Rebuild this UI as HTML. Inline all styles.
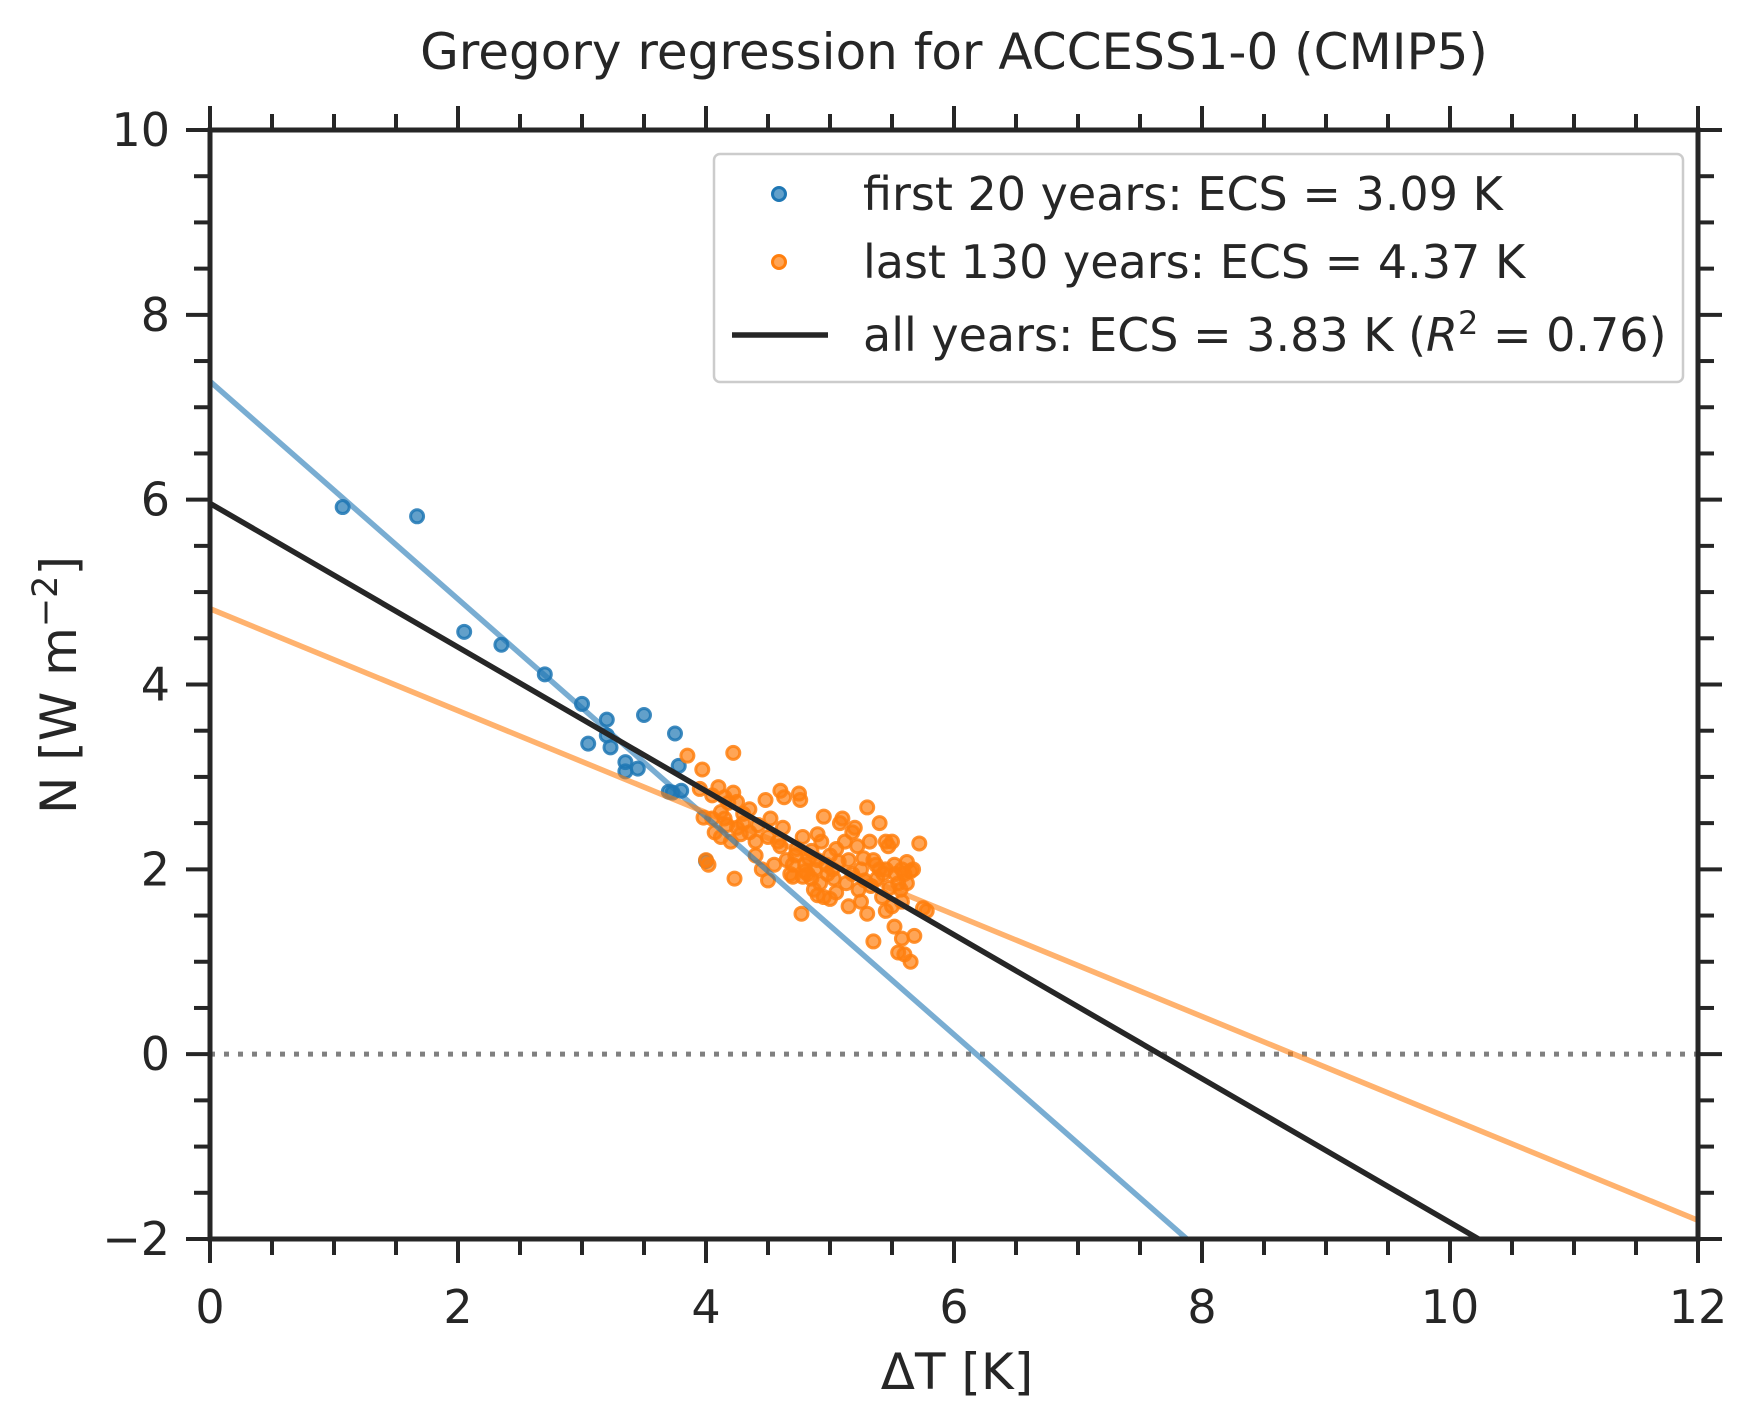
<!DOCTYPE html>
<html><head><meta charset="utf-8"><style>
html,body{margin:0;padding:0;background:#fff;overflow:hidden;width:1756px;height:1418px;position:relative}
svg{display:block;position:absolute;left:0;top:0}
text{font-family:"DejaVu Sans","Liberation Sans",sans-serif;fill:#262626}
</style></head><body>
<svg id="chart" width="1756" height="1418" viewBox="0 0 1756 1418"></svg>
<script>
const xTicks=[0,2,4,6,8,10,12];
const yTicks=[-2,0,2,4,6,8,10];
const firstX=[1.07,1.67,2.05,2.35,2.7,3.0,3.05,3.2,3.2,3.23,3.35,3.35,3.45,3.5,3.7,3.73,3.75,3.78,3.8,4.0];
const firstY=[5.92,5.82,4.57,4.43,4.11,3.79,3.36,3.62,3.45,3.32,3.16,3.06,3.09,3.67,2.84,2.83,3.47,3.12,2.85,2.09];
const lastX=[3.85,3.97,4.22,3.95,4.1,4.15,4.22,4.25,4.05,3.98,4.02,4.0,4.07,4.12,4.17,4.2,4.25,4.3,4.35,4.23,4.4,4.45,4.5,4.48,4.52,4.6,4.63,4.58,4.65,4.7,4.75,4.76,4.78,4.8,4.82,4.85,4.77,4.78,4.85,4.88,4.9,4.92,4.95,4.9,4.95,5.0,5.02,5.05,5.0,5.08,5.1,5.12,5.15,5.18,5.2,5.22,5.25,5.28,5.3,5.32,5.35,5.38,5.4,5.42,5.45,5.47,5.5,5.52,5.55,5.58,5.6,5.5,5.52,5.55,5.58,5.6,5.65,5.68,5.72,5.75,5.78,5.35,5.25,5.15,5.45,5.3,4.7,4.6,4.4,4.35,4.3,4.55,4.68,4.72,4.83,4.87,4.97,5.03,5.07,5.13,5.23,5.33,5.37,5.43,5.48,5.53,5.57,5.62,5.65,5.67,4.12,4.18,4.28,4.42,4.62,4.05,4.15,4.93,5.05,5.27,4.98,4.8,4.9,5.58,5.62,4.5,4.73,5.18,5.4,5.45];
const lastY=[3.23,3.08,3.26,2.87,2.89,2.78,2.83,2.73,2.55,2.56,2.05,2.1,2.4,2.35,2.48,2.3,2.45,2.6,2.65,1.9,2.15,2.0,1.88,2.75,2.55,2.85,2.78,2.3,2.1,2.05,2.82,2.75,2.35,2.05,1.95,1.9,1.52,1.92,2.2,2.0,2.1,1.85,1.7,2.38,2.57,2.15,2.0,1.75,1.68,2.5,2.55,2.3,2.1,1.95,2.45,2.25,2.0,1.88,2.67,2.3,2.1,1.9,2.5,1.7,2.0,2.25,2.3,2.05,1.85,2.0,1.95,1.6,1.38,1.1,1.25,1.08,1.0,1.28,2.28,1.58,1.55,1.22,1.65,1.6,1.55,1.52,1.92,2.25,2.3,2.4,2.5,2.05,1.95,2.15,2.12,1.78,2.05,1.9,2.08,1.85,1.78,1.82,2.05,1.95,1.8,1.95,1.78,2.08,1.98,2.0,2.62,2.72,2.38,2.48,2.45,2.8,2.55,2.3,2.22,2.12,1.95,1.98,1.72,1.65,1.85,2.35,2.22,2.4,2.0,2.3];
const fitIntercepts=[7.28,4.82,5.96];
const fitXIntercepts=[6.18,8.74,7.66];

const NS="http://www.w3.org/2000/svg";
const svg=document.getElementById('chart');
const L=210,R=1698,T=130,B=1239,X0=0,X1=12,Y0=-2,Y1=10;
const sx=v=>L+(v-X0)/(X1-X0)*(R-L);
const sy=v=>B-(v-Y0)/(Y1-Y0)*(B-T);
function mk(tag,attrs,parent){const e=document.createElementNS(NS,tag);for(const k in attrs)e.setAttribute(k,attrs[k]);(parent||svg).appendChild(e);return e;}

const defs=mk('defs',{});
const cp=mk('clipPath',{id:'clip'},defs);
mk('rect',{x:L,y:T,width:R-L,height:B-T},cp);

const zl=mk('line',{x1:sx(0),x2:sx(12),y1:sy(0),y2:sy(0),stroke:'#808080','stroke-width':5,'stroke-dasharray':'5,9'});



const plot=mk('g',{'clip-path':'url(#clip)'});



function scatter(xs,ys,color,name){
  const g=mk('g',{},plot);
  
  
  for(let i=0;i<xs.length;i++){
    const c=mk('circle',{cx:sx(xs[i]),cy:sy(ys[i]),r:6.5,fill:color,'fill-opacity':0.7,stroke:color,'stroke-width':3,'stroke-opacity':0.85},g);
    
    
  }
}
scatter(firstX,firstY,'#1f77b4','first-20-years-points');
scatter(lastX,lastY,'#ff7f0e','last-130-years-points');

const fitColors=['rgba(31,119,180,0.6)','rgba(255,127,14,0.6)','#262626'];
const fitNames=['first-20-years-fit','last-130-years-fit','all-years-fit'];
for(let k=0;k<3;k++){
  const b=fitIntercepts[k], m=-b/fitXIntercepts[k];
  const ln=mk('line',{x1:sx(0),y1:sy(b),x2:sx(12),y2:sy(b+m*12),stroke:fitColors[k],'stroke-width':5.5},plot);
  
  
}

const fr=mk('rect',{x:L,y:T,width:R-L,height:B-T,fill:'none',stroke:'#262626','stroke-width':5});



const tg=mk('g',{stroke:'#262626','stroke-width':4});


for(let v=0;v<=12.001;v+=0.5){
  const maj=Math.abs(v%2)<1e-6, len=maj?24:16, x=sx(v);
  mk('line',{x1:x,x2:x,y1:B,y2:B+len},tg);
  mk('line',{x1:x,x2:x,y1:T,y2:T-len},tg);
}
for(let v=-2;v<=10.001;v+=0.5){
  const maj=Math.abs((v+2)%2)<1e-6, len=maj?24:16, y=sy(v);
  mk('line',{x1:L,x2:L-len,y1:y,y2:y},tg);
  mk('line',{x1:R,x2:R+len,y1:y,y2:y},tg);
}
xTicks.forEach(v=>{
  const t=mk('text',{x:sx(v),y:1323,'text-anchor':'middle','font-size':46});
  t.textContent=String(v);
  
  
});
yTicks.forEach(v=>{
  const t=mk('text',{x:170,y:sy(v)+16,'text-anchor':'end','font-size':46});
  t.textContent=v<0?'\u2212'+Math.abs(v):String(v);
  
  
});

const title=mk('text',{x:954,y:69,'text-anchor':'middle','font-size':50});
title.textContent='Gregory regression for ACCESS1-0 (CMIP5)';


const xl=mk('text',{x:957,y:1389,'text-anchor':'middle','font-size':50});
xl.textContent='ΔT [K]';


const yl=mk('text',{x:0,y:0,'text-anchor':'middle','font-size':50,transform:'translate(76,685) rotate(-90)'});
yl.innerHTML='N [W m<tspan dy="-19" font-size="35">−2</tspan><tspan dy="19">]</tspan>';


const lg=mk('g',{});


mk('rect',{x:714,y:154,width:969,height:228,rx:6,fill:'#fff','fill-opacity':0.8,stroke:'#cccccc','stroke-width':2.5},lg);
mk('circle',{cx:779,cy:194,r:6.5,fill:'#1f77b4','fill-opacity':0.7,stroke:'#1f77b4','stroke-width':3},lg);
mk('circle',{cx:779,cy:262,r:6.5,fill:'#ff7f0e','fill-opacity':0.7,stroke:'#ff7f0e','stroke-width':3},lg);
mk('line',{x1:732,x2:828,y1:335,y2:335,stroke:'#262626','stroke-width':5.5},lg);
const labels=['first 20 years: ECS = 3.09 K','last 130 years: ECS = 4.37 K'];
[194,262].forEach((y,i)=>{const t=mk('text',{x:863,y:y+16,'font-size':46},lg);t.textContent=labels[i];
});
const t3=mk('text',{x:863,y:351,'font-size':46},lg);
t3.innerHTML='all years: ECS = 3.83 K (<tspan font-style="italic">R</tspan><tspan dy="-17" font-size="32">2</tspan><tspan dy="17"> = 0.76)</tspan>';

</script>
</body></html>
